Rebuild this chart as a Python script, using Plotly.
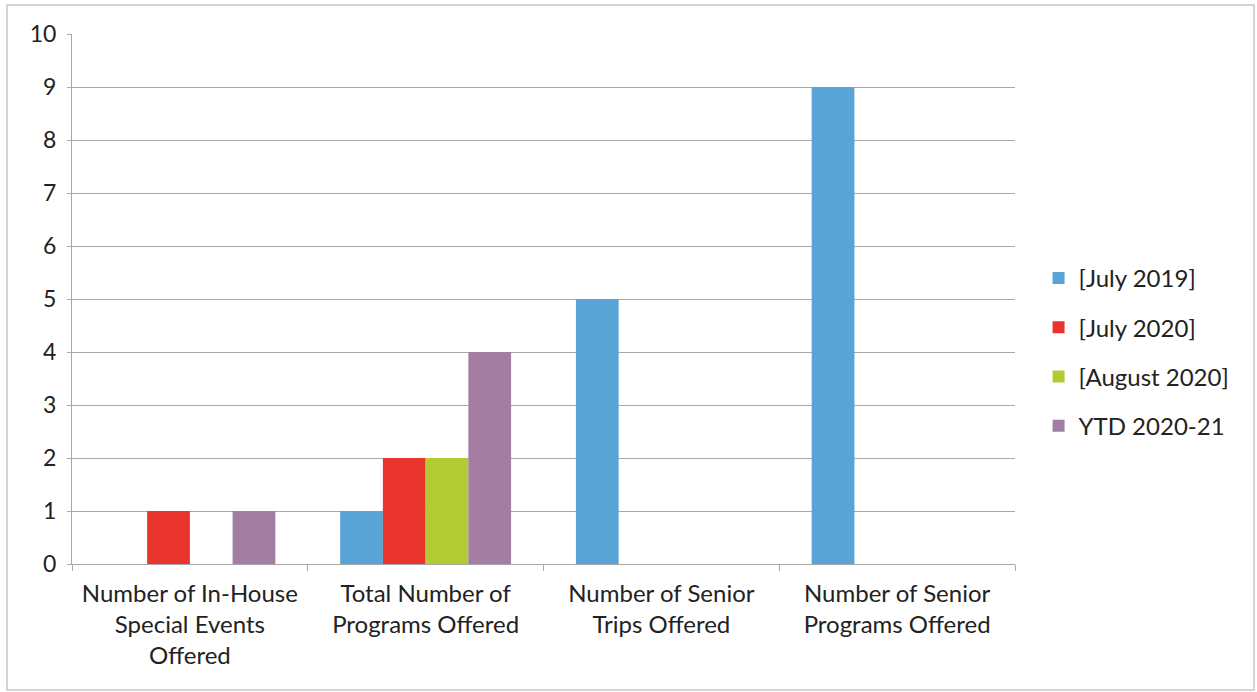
import plotly.graph_objects as go

categories = [
    "Number of In-House<br>Special Events<br>Offered",
    "Total Number of<br>Programs Offered",
    "Number of Senior<br>Trips Offered",
    "Number of Senior<br>Programs Offered",
]
series_names = ["[July 2019]", "[July 2020]", "[August 2020]", "YTD 2020-21"]
july_2019 = [0, 1, 5, 9]
july_2020 = [1, 2, 0, 0]
august_2020 = [0, 2, 0, 0]
ytd_2020_21 = [1, 4, 0, 0]
y_ticks = list(range(0, 11))

colors = ["#58A4D6", "#E8342C", "#B3CB32", "#A47DA3"]
values = [july_2019, july_2020, august_2020, ytd_2020_21]

FONT = "Lato, 'Open Sans', sans-serif"

fig = go.Figure()
for name, vals, col in zip(series_names, values, colors):
    fig.add_trace(go.Bar(
        x=categories, y=vals, name=name, marker_color=col,
        marker_line_width=0, legendgroup=name,
    ))

fig.update_layout(
    width=1257, height=692,
    margin=dict(l=72, r=242, t=34, b=128),
    paper_bgcolor="white", plot_bgcolor="white",
    barmode="group", bargap=0.275, bargroupgap=0,
    font=dict(family=FONT, size=24, color="#222222"),
    legend=dict(
        x=1.025, y=0.40, xanchor="left", yanchor="middle",
        font=dict(size=24, color="#222222"),
        traceorder="grouped", tracegroupgap=15,
        itemwidth=30,
    ),
    showlegend=True,
)
fig.update_yaxes(
    range=[0, 10], tickvals=y_ticks, showgrid=True, gridcolor="#A8A8A8", gridwidth=1,
    showline=True, linecolor="#A8A8A8", linewidth=1,
    ticks="outside", ticklen=4, tickcolor="#A8A8A8",
    tickfont=dict(size=23, color="#222222"), zeroline=False,
    ticklabelstandoff=6,
)
fig.update_xaxes(
    showline=True, linecolor="#A8A8A8", linewidth=1,
    ticks="outside", ticklen=6, tickcolor="#A8A8A8", tickson="boundaries",
    tickfont=dict(size=24, color="#222222"),
    ticklabelstandoff=8,
)
fig.add_shape(type="rect", xref="paper", yref="paper",
              x0=-0.0689, x1=1.2535, y0=-0.2377, y1=1.0547,
              line=dict(color="#C8C8C8", width=1.5), fillcolor="rgba(0,0,0,0)",
              layer="below")

fig.write_html("out.html")
